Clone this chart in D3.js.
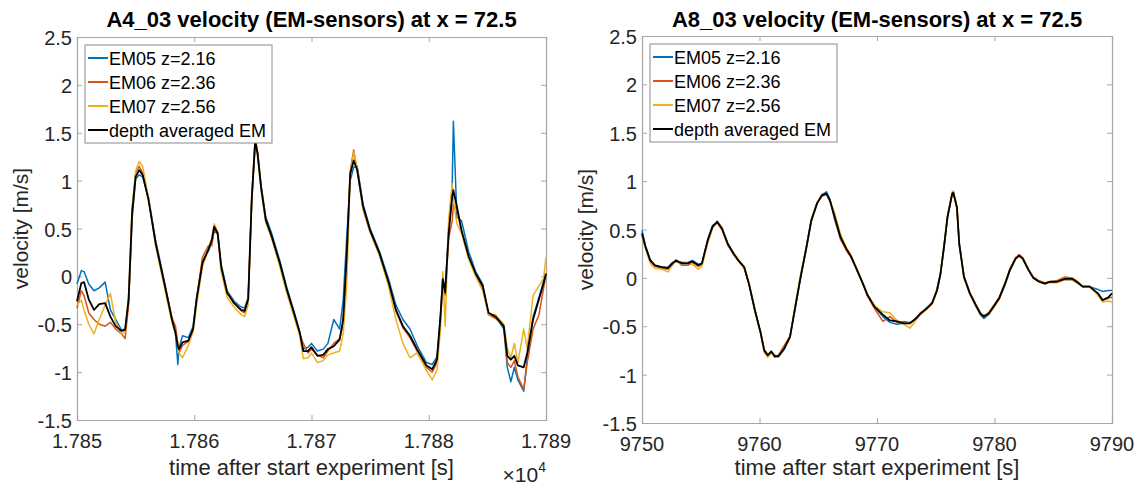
<!DOCTYPE html>
<html><head><meta charset="utf-8">
<script src="https://cdn.jsdelivr.net/npm/d3@7"></script>
<style>body{margin:0;background:#fff}svg{display:block}</style>
</head><body>
<svg id="chart" width="1141" height="486"></svg>
<script>
// ---------- DATA ----------
const seriesNames = ["EM05 z=2.16", "EM06 z=2.36", "EM07 z=2.56", "depth averaged EM"];
const yTicks = [-1.5, -1, -0.5, 0, 0.5, 1, 1.5, 2, 2.5];
const yTickLabels = ["-1.5", "-1", "-0.5", "0", "0.5", "1", "1.5", "2", "2.5"];

// Left panel (A4_03), time offset from 17850 s
const leftTitle = "A4_03 velocity (EM-sensors) at x = 72.5";
const leftStart = 17850;
const leftXTicks = [17850, 17860, 17870, 17880, 17890];
const leftXTickLabels = ["1.785", "1.786", "1.787", "1.788", "1.789"];
const leftT = [0,0.37,0.6,1.0,1.45,1.9,2.4,2.85,3.3,3.8,4.1,4.4,4.7,5.0,5.3,5.6,6.1,6.7,7.5,8.1,8.4,8.6,8.7,9.0,9.5,9.9,10.2,10.7,11.2,11.5,11.7,12.0,12.3,12.8,13.4,14.0,14.3,14.6,14.9,15.2,15.4,15.7,16.1,16.6,17.3,17.9,18.5,19.0,19.3,19.7,20.0,20.5,21.0,21.4,21.9,22.4,22.7,23.0,23.3,23.6,23.9,24.4,25.0,25.8,26.6,27.2,27.8,28.4,29.0,29.8,30.3,30.7,31.0,31.2,31.4,31.7,32.0,32.1,32.4,32.8,33.4,34.0,34.6,35.1,35.7,36.4,36.7,37.0,37.3,37.6,38.1,38.4,38.9,39.4,39.8,40.0];
const leftEM05 = [-0.08,0.06,0.05,-0.08,-0.15,-0.12,-0.06,-0.35,-0.45,-0.56,-0.55,-0.28,0.60,1.02,1.06,1.04,0.82,0.38,-0.08,-0.45,-0.60,-0.92,-0.75,-0.62,-0.64,-0.52,-0.22,0.16,0.26,0.36,0.48,0.44,0.12,-0.15,-0.26,-0.32,-0.33,-0.22,0.78,1.38,1.30,0.95,0.62,0.45,0.16,-0.12,-0.36,-0.58,-0.76,-0.74,-0.70,-0.78,-0.76,-0.70,-0.45,-0.55,-0.25,0.40,1.00,1.14,1.15,0.75,0.50,0.26,-0.04,-0.30,-0.45,-0.55,-0.72,-0.90,-0.92,-0.84,-0.40,0.00,-0.15,0.50,0.95,1.62,0.62,0.58,0.26,0.05,-0.08,-0.40,-0.42,-0.55,-0.95,-1.10,-0.95,-1.08,-1.20,-0.85,-0.42,-0.22,-0.05,0.00];
const leftEM06 = [-0.33,-0.15,-0.20,-0.38,-0.45,-0.50,-0.52,-0.48,-0.55,-0.60,-0.65,-0.30,0.70,1.08,1.15,1.08,0.80,0.36,-0.10,-0.43,-0.52,-0.70,-0.80,-0.72,-0.68,-0.56,-0.25,0.20,0.32,0.32,0.50,0.44,0.08,-0.16,-0.28,-0.36,-0.38,-0.25,0.82,1.45,1.30,0.92,0.58,0.40,0.12,-0.15,-0.40,-0.60,-0.70,-0.80,-0.76,-0.82,-0.85,-0.78,-0.70,-0.65,-0.50,0.15,1.10,1.32,1.10,0.70,0.46,0.22,-0.08,-0.36,-0.54,-0.64,-0.78,-0.95,-1.00,-0.90,-0.45,-0.05,-0.20,0.40,0.58,0.75,0.70,0.46,0.20,0.02,-0.12,-0.40,-0.44,-0.52,-0.90,-0.95,-0.88,-1.05,-1.18,-0.90,-0.55,-0.40,-0.12,0.02];
const leftEM07 = [-0.30,-0.25,-0.35,-0.50,-0.60,-0.45,-0.30,-0.18,-0.48,-0.60,-0.58,-0.20,0.72,1.10,1.20,1.15,0.82,0.32,-0.14,-0.48,-0.60,-0.72,-0.80,-0.85,-0.72,-0.58,-0.30,0.10,0.28,0.40,0.55,0.46,0.05,-0.22,-0.32,-0.40,-0.42,-0.30,0.80,1.45,1.25,0.90,0.56,0.40,0.10,-0.18,-0.42,-0.62,-0.86,-0.85,-0.80,-0.90,-0.88,-0.82,-0.80,-0.78,-0.60,-0.10,1.05,1.30,1.12,0.70,0.46,0.22,-0.12,-0.45,-0.70,-0.85,-0.80,-0.98,-1.08,-0.98,-0.55,0.05,-0.52,0.60,0.97,0.80,0.55,0.45,0.18,0.00,-0.15,-0.40,-0.40,-0.50,-0.75,-0.85,-0.70,-0.90,-0.55,-0.75,-0.20,-0.10,-0.02,0.20];
const leftAvg = [-0.26,-0.07,-0.06,-0.24,-0.35,-0.29,-0.28,-0.42,-0.52,-0.57,-0.56,-0.24,0.66,1.04,1.11,1.06,0.80,0.35,-0.10,-0.45,-0.59,-0.73,-0.76,-0.69,-0.67,-0.55,-0.24,0.14,0.28,0.38,0.52,0.45,0.10,-0.17,-0.28,-0.35,-0.36,-0.24,0.80,1.42,1.28,0.93,0.59,0.42,0.14,-0.14,-0.38,-0.59,-0.78,-0.78,-0.74,-0.83,-0.82,-0.76,-0.73,-0.66,-0.45,0.21,1.07,1.21,1.11,0.73,0.48,0.24,-0.07,-0.35,-0.52,-0.62,-0.76,-0.93,-0.97,-0.87,-0.42,-0.03,-0.17,0.45,0.83,0.90,0.73,0.48,0.21,0.03,-0.10,-0.38,-0.42,-0.52,-0.83,-0.87,-0.83,-0.93,-0.95,-0.80,-0.45,-0.24,-0.07,0.03];

// Right panel (A8_03), time offset from 9750 s
const rightTitle = "A8_03 velocity (EM-sensors) at x = 72.5";
const rightStart = 9750;
const rightXTicks = [9750, 9760, 9770, 9780, 9790];
const rightXTickLabels = ["9750", "9760", "9770", "9780", "9790"];
const rightT = [0,0.3,0.7,1.1,1.7,2.2,2.6,2.9,3.4,3.9,4.3,4.8,5.1,5.6,6.0,6.4,6.8,7.3,7.8,8.2,8.7,9.1,9.6,10.1,10.4,10.7,11.0,11.3,11.6,12.1,12.6,13.0,13.5,14.0,14.4,14.9,15.3,15.7,16.0,16.4,16.9,17.4,17.8,18.3,18.8,19.2,19.8,20.5,21.1,21.7,22.3,22.8,23.3,23.7,24.2,24.7,25.1,25.4,25.7,26.0,26.4,26.5,26.8,27.0,27.4,27.9,28.4,28.8,29.1,29.5,29.9,30.4,30.9,31.3,31.8,32.1,32.4,32.9,33.3,33.8,34.3,34.7,35.3,36.0,36.6,37.1,37.5,38.1,38.8,39.2,39.7,40.0];
const rightEM05 = [0.49,0.33,0.19,0.13,0.11,0.11,0.16,0.17,0.16,0.16,0.18,0.14,0.15,0.40,0.54,0.58,0.52,0.36,0.25,0.18,0.11,-0.06,-0.33,-0.57,-0.75,-0.80,-0.76,-0.80,-0.82,-0.74,-0.60,-0.34,0.00,0.31,0.58,0.77,0.86,0.89,0.81,0.60,0.40,0.30,0.22,0.08,-0.06,-0.18,-0.30,-0.40,-0.46,-0.48,-0.47,-0.47,-0.42,-0.37,-0.31,-0.26,-0.14,0.03,0.31,0.62,0.87,0.88,0.73,0.36,0.01,-0.16,-0.29,-0.38,-0.42,-0.38,-0.31,-0.22,-0.07,0.07,0.20,0.23,0.20,0.08,0.00,-0.04,-0.06,-0.04,-0.04,-0.02,-0.02,-0.05,-0.09,-0.09,-0.12,-0.14,-0.13,-0.13];
const rightEM06 = [0.44,0.31,0.17,0.12,0.10,0.09,0.15,0.18,0.13,0.13,0.16,0.12,0.14,0.39,0.52,0.57,0.50,0.34,0.24,0.18,0.10,-0.06,-0.34,-0.57,-0.74,-0.79,-0.77,-0.82,-0.80,-0.70,-0.60,-0.32,0.02,0.33,0.60,0.78,0.85,0.86,0.79,0.62,0.40,0.28,0.21,0.08,-0.06,-0.19,-0.32,-0.45,-0.40,-0.46,-0.45,-0.46,-0.43,-0.36,-0.32,-0.25,-0.12,0.05,0.32,0.63,0.87,0.88,0.72,0.35,0.02,-0.15,-0.27,-0.36,-0.39,-0.36,-0.29,-0.20,-0.05,0.09,0.21,0.24,0.21,0.09,0.01,-0.03,-0.05,-0.04,-0.03,0.01,0.00,-0.04,-0.09,-0.09,-0.17,-0.23,-0.21,-0.20];
const rightEM07 = [0.45,0.30,0.15,0.10,0.09,0.06,0.13,0.19,0.14,0.16,0.14,0.09,0.12,0.36,0.51,0.59,0.52,0.33,0.26,0.19,0.12,-0.05,-0.32,-0.58,-0.77,-0.82,-0.78,-0.80,-0.82,-0.73,-0.62,-0.31,0.03,0.33,0.60,0.77,0.84,0.86,0.80,0.67,0.45,0.31,0.23,0.09,-0.05,-0.17,-0.29,-0.35,-0.36,-0.44,-0.48,-0.52,-0.44,-0.38,-0.33,-0.27,-0.13,0.05,0.33,0.64,0.89,0.90,0.74,0.36,0.00,-0.17,-0.29,-0.36,-0.40,-0.38,-0.31,-0.22,-0.06,0.08,0.20,0.22,0.20,0.08,0.00,-0.04,-0.06,-0.05,-0.05,-0.02,-0.02,-0.06,-0.08,-0.09,-0.18,-0.25,-0.24,-0.25];
const rightAvg = [0.46,0.32,0.18,0.13,0.11,0.10,0.15,0.18,0.15,0.15,0.17,0.13,0.15,0.39,0.53,0.58,0.51,0.35,0.25,0.18,0.11,-0.06,-0.33,-0.57,-0.75,-0.80,-0.76,-0.81,-0.81,-0.73,-0.61,-0.33,0.01,0.32,0.59,0.77,0.85,0.87,0.80,0.63,0.42,0.30,0.22,0.08,-0.06,-0.18,-0.30,-0.38,-0.44,-0.45,-0.47,-0.47,-0.42,-0.37,-0.32,-0.26,-0.13,0.04,0.32,0.63,0.87,0.88,0.73,0.35,0.01,-0.16,-0.28,-0.37,-0.40,-0.37,-0.30,-0.21,-0.06,0.08,0.20,0.23,0.20,0.08,0.00,-0.04,-0.06,-0.04,-0.04,-0.01,-0.01,-0.05,-0.09,-0.09,-0.16,-0.23,-0.20,-0.16];

const colors = ["#0072BD", "#D95319", "#EDB120", "#000000"];

// ---------- DRAW ----------
const svg = d3.select("#chart");
const FONT = "'Liberation Sans', Arial, Helvetica, sans-serif";

function txt(g, x, y, s, size, anchor, opts = {}) {
  return g.append("text")
    .attr("transform", `translate(${x},${y})` + (opts.rotate ? ` rotate(${opts.rotate})` : ""))
    .attr("font-family", FONT).attr("font-size", size)
    .attr("text-anchor", anchor).attr("fill", opts.fill || "#262626")
    .attr("font-weight", opts.bold ? "bold" : "normal")
    .text(s);
}

function panel(cfg) {
  const {x0, x1, y0, y1, start, tArr, series, xTicks, xTickLabels, title, exp} = cfg;
  const g = svg.append("g");
  const x = d3.scaleLinear().domain([xTicks[0], xTicks[xTicks.length - 1]]).range([x0, x1]);
  const y = d3.scaleLinear().domain([-1.5, 2.5]).range([y1, y0]);
  const axisColor = "#a6a6a6";
  const tl = 5;

  const bottom = d3.axisBottom(x).tickValues(xTicks).tickSize(-tl).tickFormat("");
  const top = d3.axisTop(x).tickValues(xTicks).tickSize(-tl).tickFormat("");
  const left = d3.axisLeft(y).tickValues(yTicks).tickSize(-tl).tickFormat("");
  const right = d3.axisRight(y).tickValues(yTicks).tickSize(-tl).tickFormat("");
  [[bottom, `translate(0,${y1})`], [top, `translate(0,${y0})`], [left, `translate(${x0},0)`], [right, `translate(${x1},0)`]]
    .forEach(([ax, tr]) => {
      const a = g.append("g").attr("transform", tr).call(ax);
      a.selectAll("path.domain").attr("stroke", axisColor).attr("stroke-width", 1.2);
      a.selectAll(".tick line").attr("stroke", axisColor).attr("stroke-width", 1);
    });

  xTicks.forEach((v, i) => txt(g, x(v), y1 + 28, xTickLabels[i], 20, "middle"));
  yTicks.forEach((v, i) => txt(g, x0 - 5, y(v) + 8, yTickLabels[i], 20, "end"));

  const line = d3.line().x((d) => x(start + d[0])).y((d) => y(d[1]));
  series.forEach((vals, si) => {
    g.append("path").datum(tArr.map((t, i) => [t, vals[i]]))
      .attr("d", line).attr("fill", "none")
      .attr("stroke", colors[si]).attr("stroke-width", si === 3 ? 1.8 : 1.5)
      .attr("stroke-linejoin", "round");
  });

  txt(g, (x0 + x1) / 2, 27, title, 22, "middle", {bold: true, fill: "#000"});
  txt(g, (x0 + x1) / 2, 475, "time after start experiment [s]", 22, "middle");
  txt(g, x0 - 49, (y0 + y1) / 2, "velocity [m/s]", 21, "middle", {rotate: -90});
  if (exp) {
    const t = txt(g, x1, 482, "×10", 21, "end");
    t.append("tspan").attr("font-size", 14).attr("dy", -10).text("4");
  }

  const lx = x0 + 8, ly = y0 + 8, lw = 187, lh = 98;
  const lg = g.append("g");
  lg.append("rect").attr("x", lx).attr("y", ly).attr("width", lw).attr("height", lh)
    .attr("fill", "#fff").attr("stroke", "#8c8c8c").attr("stroke-width", 1);
  seriesNames.forEach((nm, i) => {
    const yy = ly + 13 + i * 24;
    lg.append("line").attr("x1", lx + 3).attr("x2", lx + 23).attr("y1", yy).attr("y2", yy)
      .attr("stroke", colors[i]).attr("stroke-width", 2);
    txt(lg, lx + 24, yy + 6.5, nm, 18, "start", {fill: "#000"});
  });
}

panel({x0: 77, x1: 546, y0: 37, y1: 420, start: leftStart, tArr: leftT,
  series: [leftEM05, leftEM06, leftEM07, leftAvg], xTicks: leftXTicks, xTickLabels: leftXTickLabels,
  title: leftTitle, exp: true});
panel({x0: 642, x1: 1112, y0: 36, y1: 423, start: rightStart, tArr: rightT,
  series: [rightEM05, rightEM06, rightEM07, rightAvg], xTicks: rightXTicks, xTickLabels: rightXTickLabels,
  title: rightTitle, exp: false});
</script>
</body></html>
